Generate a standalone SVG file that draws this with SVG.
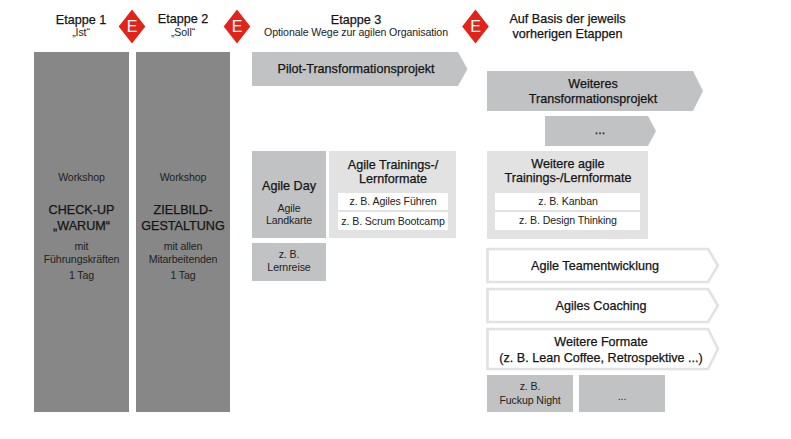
<svg xmlns="http://www.w3.org/2000/svg" width="791" height="439" viewBox="0 0 791 439">
<style>
text{font-family:"Liberation Sans",Arial,sans-serif;text-anchor:middle;fill:#141414}
.h{font-size:12.6px;stroke:#141414;stroke-width:.25px}
.l{font-size:10.6px;letter-spacing:-.1px;fill:#222}
.bar{fill:#878787}
.mid{fill:#c1c2c4}
.pale{fill:#e2e2e2}
.white{fill:#fff}
.open{fill:#fff;stroke:#e2e2e2;stroke-width:2.6px}
.red{fill:#e2231a}
.e{font-size:16px;fill:#fff}
</style>
<rect width="791" height="439" fill="#fff"/>

<g id="etappe-1-header"><text class="h" x="81" y="24">Etappe 1</text><text class="l" x="81" y="36">„Ist“</text></g>
<g id="etappe-2-header"><text class="h" x="183" y="23">Etappe 2</text><text class="l" x="183" y="36">„Soll“</text></g>
<g id="etappe-3-header"><text class="h" x="356" y="24">Etappe 3</text><text class="l" x="356" y="36">Optionale Wege zur agilen Organisation</text></g>
<g id="basis-header"><text class="h" x="567.500" y="23">Auf Basis der jeweils</text><text class="h" x="567.500" y="38">vorherigen Etappen</text></g>

<g id="marker-1"><polygon class="red" points="132,9.500 145.300,26.500 132,43.500 118.700,26.500"/><text class="e" x="132" y="32">E</text></g>
<g id="marker-2"><polygon class="red" points="237,9.500 250.300,26.500 237,43.500 223.700,26.500"/><text class="e" x="237" y="32">E</text></g>
<g id="marker-3"><polygon class="red" points="475.500,9.500 488.800,26.500 475.500,43.500 462.200,26.500"/><text class="e" x="475.500" y="32">E</text></g>

<g id="check-up">
<rect class="bar" x="34" y="52" width="95" height="360"/>
<text class="l" x="81.500" y="181">Workshop</text>
<text class="h" x="81.500" y="214">CHECK-UP</text>
<text class="h" x="81.500" y="230">„WARUM“</text>
<text class="l" x="81.500" y="250">mit</text>
<text class="l" x="81.500" y="263">Führungskräften</text>
<text class="l" x="81.500" y="279">1 Tag</text>
</g>
<g id="zielbild">
<rect class="bar" x="136" y="52" width="94" height="360"/>
<text class="l" x="183" y="181">Workshop</text>
<text class="h" x="183" y="214">ZIELBILD-</text>
<text class="h" x="183" y="230">GESTALTUNG</text>
<text class="l" x="183" y="250">mit allen</text>
<text class="l" x="183" y="263">Mitarbeitenden</text>
<text class="l" x="183" y="279">1 Tag</text>
</g>

<g id="pilot">
<polygon class="mid" points="252,52 458,52 467.500,69 458,86 252,86"/>
<text class="h" x="356" y="73">Pilot-Transformationsprojekt</text>
</g>
<g id="weiteres-projekt">
<polygon class="mid" points="487,71 693,71 703,91 693,111 487,111"/>
<text class="h" x="593" y="88">Weiteres</text>
<text class="h" x="593" y="103">Transformationsprojekt</text>
</g>
<g id="weiteres-etc">
<polygon class="mid" points="545,116 648,116 656,131 648,146 545,146"/>
<text class="h" x="600" y="134">...</text>
</g>

<g id="agile-day">
<rect class="mid" x="252" y="151" width="74" height="87"/>
<text class="h" x="289" y="190">Agile Day</text>
<text class="l" x="289" y="212">Agile</text>
<text class="l" x="289" y="224">Landkarte</text>
</g>
<g id="lernreise">
<rect class="mid" x="252" y="243" width="74" height="38"/>
<text class="l" x="289" y="258">z. B.</text>
<text class="l" x="289" y="271">Lernreise</text>
</g>
<g id="agile-trainings">
<rect class="pale" x="329" y="151" width="127" height="87"/>
<text class="h" x="393" y="169">Agile Trainings-/</text>
<text class="h" x="393" y="183">Lernformate</text>
<rect class="white" x="338" y="193" width="110" height="17"/>
<text class="l" x="393" y="205">z. B. Agiles Führen</text>
<rect class="white" x="338" y="212" width="110" height="18"/>
<text class="l" x="393" y="225">z. B. Scrum Bootcamp</text>
</g>
<g id="weitere-trainings">
<rect class="pale" x="487" y="151" width="161" height="88"/>
<text class="h" x="568" y="168">Weitere agile</text>
<text class="h" x="568" y="182">Trainings-/Lernformate</text>
<rect class="white" x="495" y="193" width="145" height="17"/>
<text class="l" x="568" y="205">z. B. Kanban</text>
<rect class="white" x="495" y="212" width="145" height="18"/>
<text class="l" x="568" y="224">z. B. Design Thinking</text>
</g>

<g id="teamentwicklung">
<polygon class="open" points="487.500,249 708,249 718,265.500 708,282 487.500,282"/>
<text class="h" x="595" y="270">Agile Teamentwicklung</text>
</g>
<g id="coaching">
<polygon class="open" points="487.500,289 708,289 718,305.500 708,322 487.500,322"/>
<text class="h" x="601" y="310">Agiles Coaching</text>
</g>
<g id="weitere-formate">
<polygon class="open" points="487.500,329 708,329 718,349 708,369 487.500,369"/>
<text class="h" x="601" y="346">Weitere Formate</text>
<text class="h" x="601" y="362">(z. B. Lean Coffee, Retrospektive ...)</text>
</g>
<g id="fuckup">
<rect class="mid" x="487" y="375" width="86" height="37"/>
<text class="l" x="530" y="390">z. B.</text>
<text class="l" x="530" y="404">Fuckup Night</text>
</g>
<g id="weitere-etc">
<rect class="mid" x="579" y="375" width="86" height="37"/>
<text class="l" x="622" y="400">...</text>
</g>
<g id="connectors"></g>
</svg>
